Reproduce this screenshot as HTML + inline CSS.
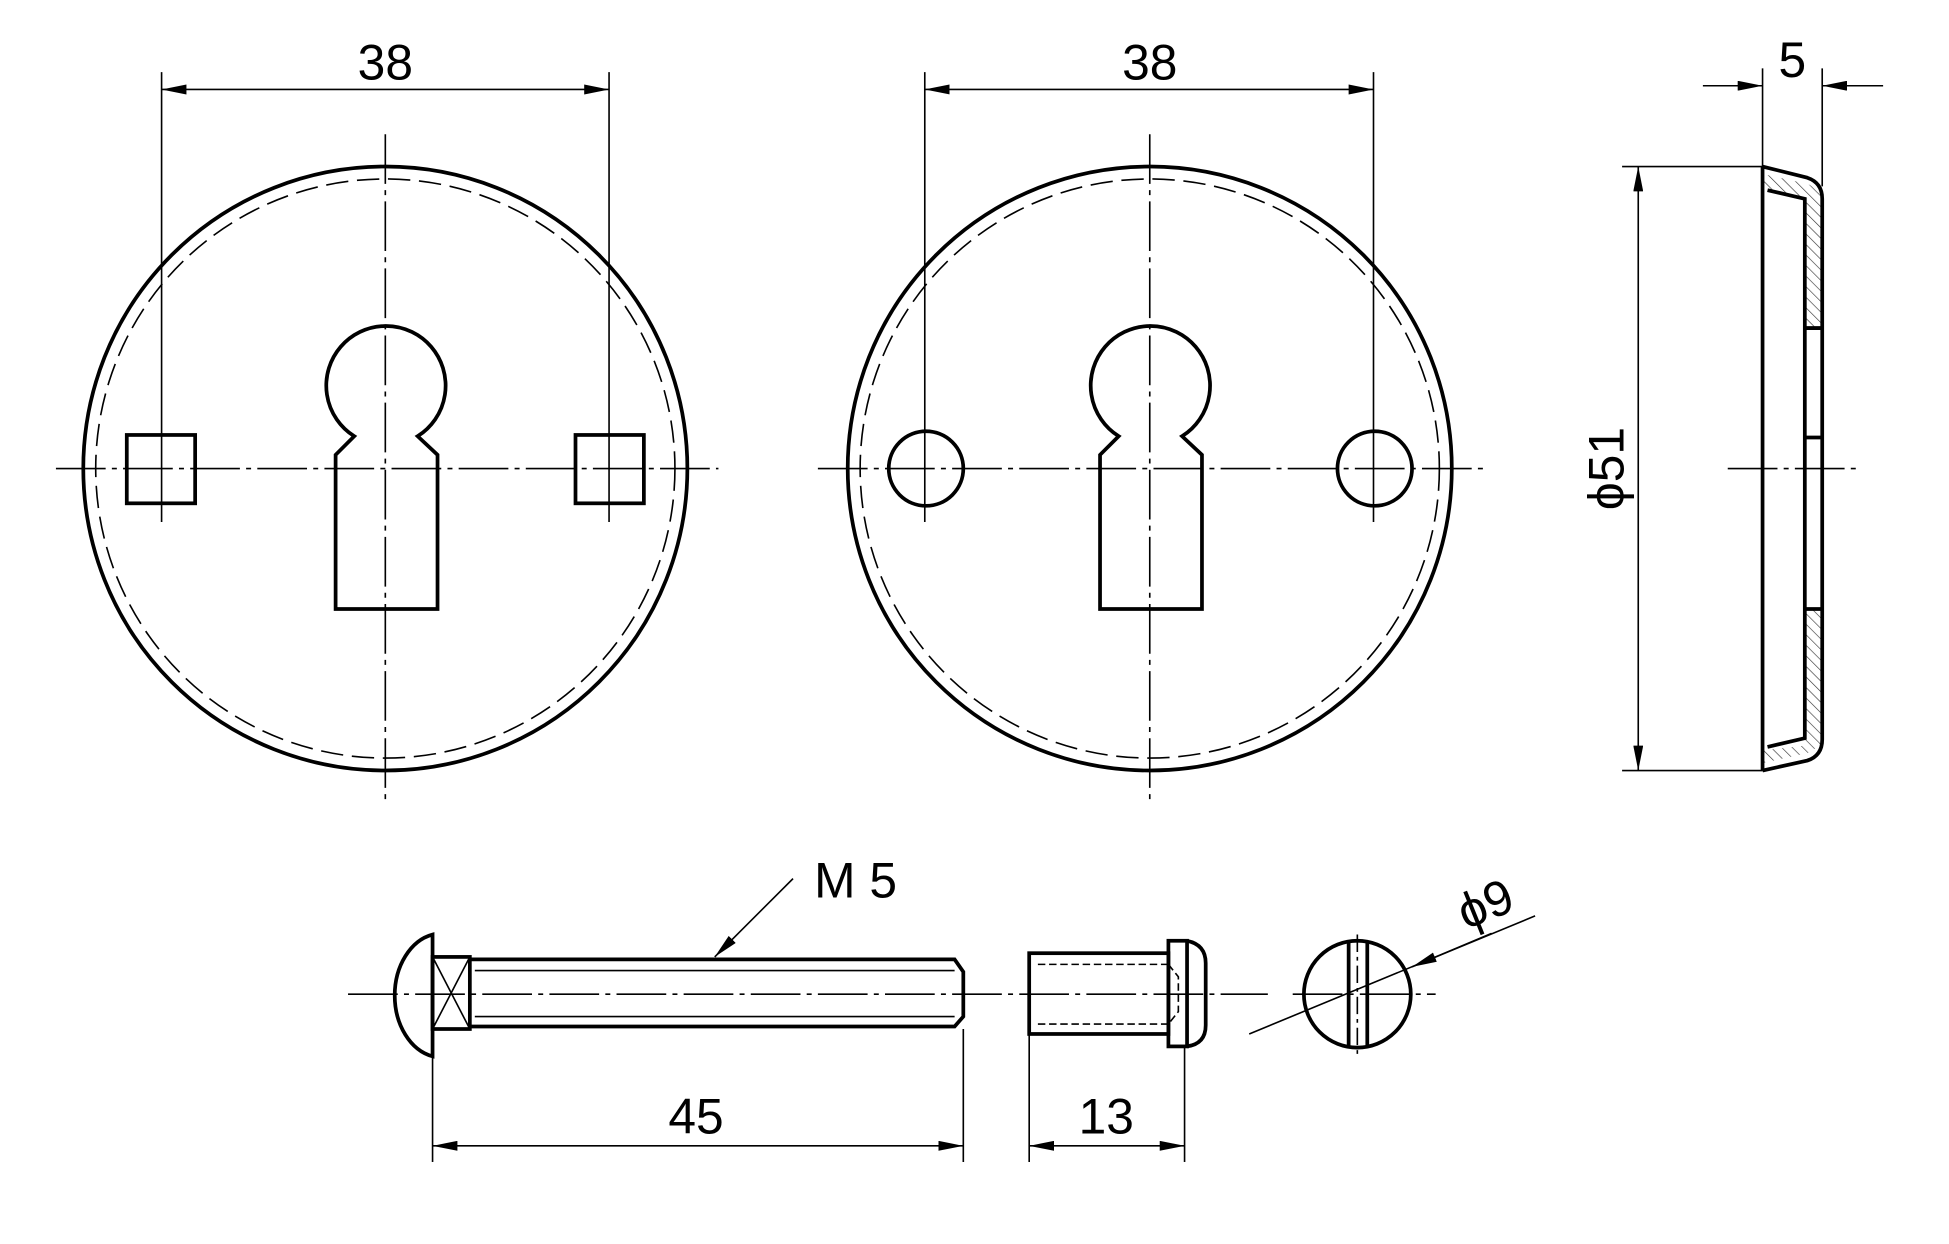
<!DOCTYPE html>
<html><head><meta charset="utf-8"><style>
html,body{margin:0;padding:0;background:#fff;width:1949px;height:1244px;overflow:hidden}
svg{display:block}
text{font-family:"Liberation Sans",sans-serif;fill:#000}
</style></head><body>
<svg width="1949" height="1244" viewBox="0 0 1568 1001" preserveAspectRatio="none" xmlns="http://www.w3.org/2000/svg">
<defs>
<marker id="a" viewBox="0 0 20 8" refX="20" refY="4" markerWidth="20" markerHeight="8" markerUnits="userSpaceOnUse" orient="auto-start-reverse"><path d="M0,0 L20,4 L0,8 Z" fill="#000"/></marker>
<pattern id="h" width="6" height="6" patternUnits="userSpaceOnUse" patternTransform="rotate(-45)"><line x1="0" y1="0" x2="0" y2="6" stroke="#333" stroke-width="1"/></pattern>
</defs>
<g fill="none" stroke="#000">
<!-- left plate -->
<g stroke-width="1.3" stroke-dasharray="40,5,4,5">
<line x1="45" y1="377" x2="578" y2="377"/><line x1="310" y1="108" x2="310" y2="645"/>
<line x1="658" y1="377" x2="1193" y2="377"/><line x1="925" y1="108" x2="925" y2="645"/>
<line x1="1390" y1="377" x2="1497" y2="377"/>
<line x1="280" y1="800" x2="1020" y2="800"/>
<line x1="1040" y1="800" x2="1155" y2="800"/>
<line x1="1092" y1="752" x2="1092" y2="852" stroke-dasharray="14,4,3,4"/>
</g>
<circle cx="310" cy="377" r="243" stroke-width="3"/>
<circle cx="310" cy="377" r="233" stroke-width="1.3" stroke-dasharray="18,7"/>
<path d="M270,490 L270,366 L285,351 A48,48 0 1 1 336,351 L352,366 L352,490 Z" stroke-width="3"/>
<rect x="102" y="350" width="55" height="55" stroke-width="3"/>
<rect x="463" y="350" width="55" height="55" stroke-width="3"/>
<g stroke-width="1.3">
<line x1="130" y1="58" x2="130" y2="420"/><line x1="490" y1="58" x2="490" y2="420"/>
<line x1="130" y1="72" x2="490" y2="72" marker-start="url(#a)" marker-end="url(#a)"/>
</g>
<!-- right plate -->
<circle cx="925" cy="377" r="243" stroke-width="3"/>
<circle cx="925" cy="377" r="233" stroke-width="1.3" stroke-dasharray="18,7"/>
<path d="M885,490 L885,366 L900,351 A48,48 0 1 1 951,351 L967,366 L967,490 Z" stroke-width="3"/>
<circle cx="745" cy="377" r="30" stroke-width="3"/>
<circle cx="1106" cy="377" r="30" stroke-width="3"/>
<g stroke-width="1.3">
<line x1="744" y1="58" x2="744" y2="420"/><line x1="1105" y1="58" x2="1105" y2="420"/>
<line x1="744" y1="72" x2="1105" y2="72" marker-start="url(#a)" marker-end="url(#a)"/>
</g>
<!-- side view -->
<path d="M1418,140 L1454,148 Q1464,152 1466,162 L1466,263 L1452,263 L1452,160 L1425,153 L1418,153 Z" fill="url(#h)" stroke="none"/>
<path d="M1452,263 L1466,263 L1466,263 Z" />
<rect x="1452" y="490" width="14" height="110" fill="url(#h)" stroke="none"/>
<path d="M1418,614 L1454,606 Q1464,602 1466,592 L1466,600 L1452,600 L1425,603 L1418,603 Z" fill="url(#h)" stroke="none"/>
<g stroke-width="3">
<line x1="1418" y1="134" x2="1418" y2="620"/>
<path d="M1418,134 L1454,143 Q1466,147 1466,160 L1466,595 Q1466,608 1454,612 L1418,620"/>
<path d="M1422,153 L1452,160 L1452,594 L1422,601"/>
<line x1="1452" y1="264" x2="1466" y2="264"/>
<line x1="1452" y1="352" x2="1466" y2="352"/>
<line x1="1452" y1="490" x2="1466" y2="490"/>
</g>
<g stroke-width="1.3">
<line x1="1305" y1="134" x2="1418" y2="134"/><line x1="1305" y1="620" x2="1418" y2="620"/>
<line x1="1318" y1="134" x2="1318" y2="620" marker-start="url(#a)" marker-end="url(#a)"/>
<line x1="1418" y1="55" x2="1418" y2="134"/><line x1="1466" y1="55" x2="1466" y2="150"/>
<line x1="1370" y1="69" x2="1418" y2="69" marker-end="url(#a)"/>
<line x1="1515" y1="69" x2="1466" y2="69" marker-end="url(#a)"/>
</g>
<!-- screw -->
<g stroke-width="3">
<path d="M348,752 A38,50 0 0 0 348,850 Z"/>
<rect x="348" y="770" width="30" height="58"/>
<path d="M378,772 L768,772 L775,782 L775,818 L768,826 L378,826"/>
<rect x="828" y="767" width="112" height="65"/>
<rect x="940" y="757" width="15" height="85"/>
<path d="M955,757 Q970,760 970,775 L970,825 Q970,840 955,842"/>
<circle cx="1092" cy="800" r="43"/>
<line x1="1085" y1="758" x2="1085" y2="842"/><line x1="1100" y1="758" x2="1100" y2="842"/>
</g>
<g stroke-width="1.3">
<line x1="348" y1="770" x2="378" y2="828"/><line x1="378" y1="770" x2="348" y2="828"/>
<line x1="382" y1="781" x2="768" y2="781"/><line x1="382" y1="818" x2="768" y2="818"/>
<path d="M835,776 L940,776 M835,824 L940,824 M940,776 L948,786 L948,814 L940,824" stroke-dasharray="6,3"/>
<line x1="638" y1="707" x2="575" y2="770" marker-end="url(#a)"/>
<line x1="348" y1="850" x2="348" y2="935"/><line x1="775" y1="828" x2="775" y2="935"/>
<line x1="348" y1="922" x2="775" y2="922" marker-start="url(#a)" marker-end="url(#a)"/>
<line x1="828" y1="832" x2="828" y2="935"/><line x1="953" y1="842" x2="953" y2="935"/>
<line x1="828" y1="922" x2="953" y2="922" marker-start="url(#a)" marker-end="url(#a)"/>
<line x1="1005" y1="832" x2="1235" y2="737"/>
<line x1="1200" y1="751" x2="1136" y2="778" marker-end="url(#a)"/>
</g>
</g>
<g font-size="40">
<text x="310" y="64" text-anchor="middle">38</text>
<text x="925" y="64" text-anchor="middle">38</text>
<text x="1442" y="62" text-anchor="middle">5</text>
<text transform="translate(1306,377) rotate(-90)" text-anchor="middle">ϕ51</text>
<text x="655" y="722">M 5</text>
<text x="560" y="912" text-anchor="middle">45</text>
<text x="890" y="912" text-anchor="middle">13</text>
<text transform="translate(1200,740) rotate(-22)" text-anchor="middle">ϕ9</text>
</g>
</svg>
</body></html>
